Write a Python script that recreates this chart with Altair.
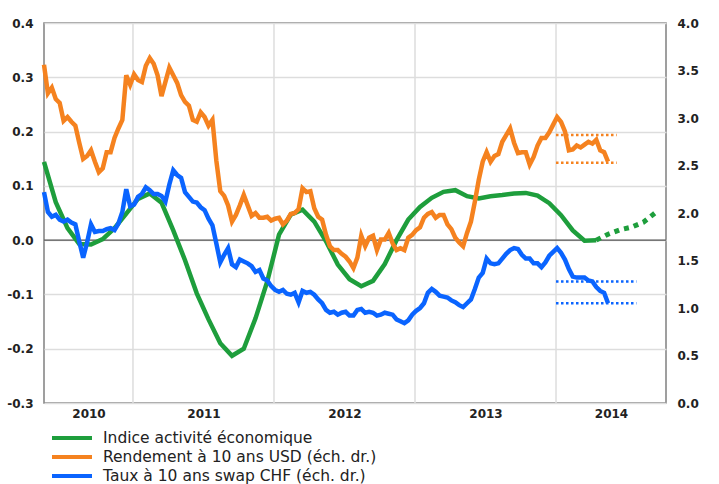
import altair as alt
import pandas as pd

# ---- axis / time frame -------------------------------------------------
T0, T1 = 2010.369, 2014.780          # visible time span (fractional years)
years = [2010, 2011, 2012, 2013, 2014]
year_labels = ["2010", "2011", "2012", "2013", "2014"]
grid_years = [2011, 2012, 2013, 2014]
left_ticks = [-0.3, -0.2, -0.1, 0.0, 0.1, 0.2, 0.3, 0.4]
right_ticks = [0.0, 0.5, 1.0, 1.5, 2.0, 2.5, 3.0, 3.5, 4.0]

names = ["Indice activité économique",
         "Rendement à 10 ans USD (éch. dr.)",
         "Taux à 10 ans swap CHF (éch. dr.)"]
colors = ["#1e9e3c", "#f5821f", "#0a64ff"]

# ---- data ---------------------------------------------------------------
start = 2010.369
fast_step = 1 / 36      # roughly every 10 days
month_step = 1 / 12

usd = [3.56, 3.26, 3.32, 3.20, 3.16, 2.97, 3.01, 2.96, 2.92, 2.74,
       2.57, 2.60, 2.66, 2.54, 2.43, 2.47, 2.64, 2.64, 2.79, 2.89,
       2.98, 3.45, 3.35, 3.46, 3.40, 3.38, 3.55, 3.63, 3.57, 3.45,
       3.23, 3.38, 3.53, 3.45, 3.37, 3.24, 3.17, 3.13, 2.98, 2.96,
       3.06, 3.01, 2.92, 2.98, 2.55, 2.23, 2.18, 2.08, 1.91, 1.98,
       2.08, 2.19, 2.08, 1.97, 2.00, 1.95, 1.95, 1.96, 1.92, 1.94,
       1.95, 1.88, 1.92, 1.99, 2.00, 2.04, 2.26, 2.22, 2.23, 2.05,
       1.96, 1.93, 1.77, 1.65, 1.61, 1.61, 1.57, 1.54, 1.49, 1.42,
       1.53, 1.76, 1.65, 1.74, 1.76, 1.61, 1.72, 1.72, 1.79, 1.68,
       1.61, 1.63, 1.61, 1.74, 1.77, 1.82, 1.85, 1.95, 1.99, 2.01,
       1.95, 1.98, 1.98, 1.88, 1.83, 1.74, 1.69, 1.65, 1.79, 1.91,
       2.12, 2.35, 2.54, 2.64, 2.54, 2.60, 2.62, 2.75, 2.82, 2.89,
       2.74, 2.63, 2.64, 2.64, 2.51, 2.59, 2.71, 2.79, 2.79, 2.85,
       2.93, 3.01, 2.96, 2.86, 2.66, 2.67, 2.71, 2.69, 2.72, 2.75,
       2.73, 2.77, 2.66, 2.64, 2.54]

chf = [2.22, 2.01, 1.96, 1.98, 1.93, 1.91, 1.93, 1.90, 1.88, 1.70,
       1.53, 1.69, 1.88, 1.80, 1.81, 1.81, 1.83, 1.84, 1.82, 1.89,
       2.01, 2.25, 2.07, 2.09, 2.17, 2.20, 2.27, 2.24, 2.20, 2.20,
       2.18, 2.12, 2.30, 2.45, 2.40, 2.37, 2.22, 2.17, 2.12, 2.11,
       2.06, 2.03, 1.94, 1.87, 1.68, 1.48, 1.56, 1.63, 1.46, 1.43,
       1.51, 1.49, 1.47, 1.44, 1.38, 1.40, 1.31, 1.29, 1.23, 1.19,
       1.17, 1.19, 1.15, 1.14, 1.16, 1.06, 1.18, 1.16, 1.17, 1.14,
       1.09, 1.05, 0.98, 0.95, 0.96, 0.93, 0.95, 0.96, 0.92, 0.92,
       0.98, 0.99, 0.95, 0.96, 0.95, 0.92, 0.93, 0.95, 0.94, 0.93,
       0.88, 0.86, 0.84, 0.87, 0.93, 0.97, 1.00, 1.05, 1.16, 1.20,
       1.17, 1.13, 1.12, 1.11, 1.08, 1.06, 1.03, 1.01, 1.05, 1.09,
       1.20, 1.32, 1.37, 1.52, 1.47, 1.46, 1.47, 1.52, 1.57, 1.61,
       1.63, 1.62, 1.56, 1.52, 1.52, 1.47, 1.47, 1.43, 1.48, 1.55,
       1.59, 1.63, 1.58, 1.51, 1.41, 1.33, 1.32, 1.32, 1.32, 1.29,
       1.28, 1.22, 1.18, 1.16, 1.05]

activity = [0.144, 0.070, 0.022, -0.007, -0.008, 0.002, 0.022, 0.049,
            0.076, 0.086, 0.069, 0.018, -0.037, -0.098, -0.146, -0.190,
            -0.213, -0.200, -0.144, -0.076, 0.010, 0.047, 0.056, 0.034,
            -0.002, -0.045, -0.072, -0.085, -0.075, -0.044, 0.000, 0.038,
            0.061, 0.078, 0.089, 0.092, 0.081, 0.077, 0.081, 0.083,
            0.086, 0.087, 0.082, 0.068, 0.046, 0.018, -0.001, 0.000]
activity_forecast = [0.000, 0.011, 0.019, 0.024, 0.033, 0.050]

# recent ranges (dotted levels, right scale)
level_start = 2014.0
usd_levels = [2.82, 2.53]
usd_level_end = 2014.43
chf_levels = [1.28, 1.05]
chf_level_end = 2014.57

# ---- tables --------------------------------------------------------------
rows = []
for k, v in enumerate(usd):
    rows.append({"t": start + k * fast_step, "v": v, "s": names[1]})
for k, v in enumerate(chf):
    rows.append({"t": start + k * fast_step, "v": v, "s": names[2]})
rates_df = pd.DataFrame(rows)

act_df = pd.DataFrame({"t": [start + k * month_step for k in range(len(activity))],
                       "v": activity, "s": names[0]})
n0 = len(activity) - 1
fc_df = pd.DataFrame({"t": [start + (n0 + k) * month_step for k in range(len(activity_forecast))],
                      "v": activity_forecast})
vgrid_df = pd.DataFrame({"t": grid_years})
zero_df = pd.DataFrame({"v": [0.0]})
usd_lv_df = pd.DataFrame({"t": level_start, "t2": usd_level_end, "v": usd_levels})
chf_lv_df = pd.DataFrame({"t": level_start, "t2": chf_level_end, "v": chf_levels})

label_pos = [(max(y, T0) + min(y + 1, T1)) / 2 for y in years]

# ---- encodings -----------------------------------------------------------
FONT = "DejaVu Sans"
LAB = dict(labelFont=FONT, labelFontWeight="bold", labelFontSize=12,
           labelColor="#222222", ticks=False, domain=False, title=None)

x_axis = alt.Axis(values=label_pos, labelExpr="floor(datum.value)", grid=False,
                  labelPadding=5, labelFlush=False, labelOverlap=False, **LAB)
X = alt.X("t:Q", scale=alt.Scale(domain=[T0, T1], nice=False, zero=False), axis=x_axis)

num_expr = "(datum.value < 0 ? '-' : '') + format(abs(datum.value), '.1f')"
left_axis = alt.Axis(values=left_ticks, labelExpr=num_expr, orient="left", grid=True,
                     gridColor="#dddddd", gridWidth=1.5, labelPadding=11, **LAB)
right_axis = alt.Axis(values=right_ticks, labelExpr=num_expr, orient="right", grid=False,
                      labelPadding=11, **LAB)
YL = alt.Y("v:Q", scale=alt.Scale(domain=[-0.3, 0.4], nice=False, zero=False), axis=left_axis)
YR = alt.Y("v:Q", scale=alt.Scale(domain=[0, 4], nice=False, zero=False), axis=right_axis)

color = alt.Color("s:N", scale=alt.Scale(domain=names, range=colors),
                  legend=alt.Legend(orient="none", legendX=6, legendY=406, title=None,
                                    symbolType="stroke", symbolSize=1600,
                                    symbolStrokeWidth=4, labelFont=FONT,
                                    labelFontSize=15.5, labelColor="#222222",
                                    labelOffset=9, clipHeight=18.2, rowPadding=0,
                                    padding=0, labelLimit=400, direction="vertical"))

vgrid = alt.Chart(vgrid_df).mark_rule(color="#dddddd", strokeWidth=1.5).encode(x=X)
zero = alt.Chart(zero_df).mark_rule(color="#555555", strokeWidth=1.2).encode(y=YL)
act = alt.Chart(act_df).mark_line(strokeWidth=4.5).encode(x=X, y=YL, color=color)
fc = alt.Chart(fc_df).mark_line(strokeWidth=5, strokeDash=[5, 5], color=colors[0]).encode(x=X, y=YL)
left = alt.layer(vgrid, zero, act, fc)

rates = alt.Chart(rates_df).mark_line(strokeWidth=4.5).encode(
    x=X, y=YR, color=color, detail="s:N")
usd_lv = alt.Chart(usd_lv_df).mark_rule(color=colors[1], strokeWidth=2.5,
                                        strokeDash=[2.5, 2.5]).encode(x=X, x2="t2:Q", y=YR)
chf_lv = alt.Chart(chf_lv_df).mark_rule(color=colors[2], strokeWidth=2.5,
                                        strokeDash=[2.5, 2.5]).encode(x=X, x2="t2:Q", y=YR)
right = alt.layer(rates, usd_lv, chf_lv)

chart = alt.layer(left, right).resolve_scale(y="independent").properties(
    width=622, height=380,
    autosize=alt.AutoSizeParams(type="none"),
    padding={"left": 44, "top": 23, "right": 53, "bottom": 81},
    background="white",
).configure_view(stroke="#808080", strokeWidth=1.5)

chart.save("out.html", embed_options={"renderer": "svg", "actions": False})
